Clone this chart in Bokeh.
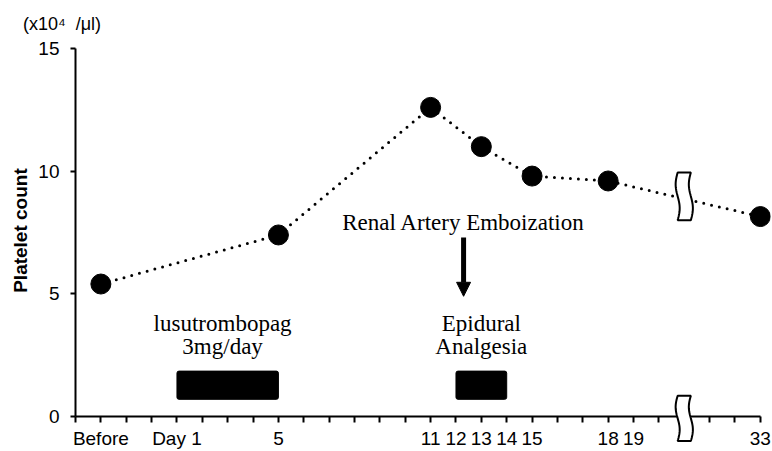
import numpy as np
from bokeh.plotting import figure
from bokeh.models import Range1d, FixedTicker, Arrow, NormalHead, ColumnDataSource
from bokeh.core.properties import value
from bokeh.embed import file_html
from bokeh.resources import INLINE

# ---- data -------------------------------------------------------------
# x axis: one slot per day, with an axis break between day 19 and day 33
tick_positions = list(range(28))
label_positions = [1, 4, 8, 14, 15, 16, 17, 18, 21, 22, 27]
label_texts = ["Before", "Day 1", "5", "11", "12", "13", "14", "15", "18", "19", "33"]

# platelet count (x10^4 /µl)
point_positions = [1, 8, 14, 16, 18, 21, 27]
platelet_counts = [5.4, 7.4, 12.6, 11.0, 9.8, 9.6, 8.15]

y_ticks = [0, 5, 10, 15]

# treatment periods (lusutrombopag days 1-5, epidural analgesia days 12-14)
treat_start = [4, 15]
treat_end = [8, 17]
treat_low = [0.7, 0.7]
treat_high = [1.85, 1.85]

# annotation texts
note_texts = ["lusutrombopag", "3mg/day", "Epidural", "Analgesia", "Renal Artery Emboization"]
note_x = [5.8, 5.8, 16.0, 16.0, 15.3]
note_y = [3.8, 2.85, 3.8, 2.85, 7.92]

unit_text = "(x10\u2074\u00a0\u00a0/\u03bcl)"
y_title = "Platelet count"

break_x = 24

# ---- figure -----------------------------------------------------------
p = figure(width=772, height=451, output_backend="svg", toolbar_location=None,
           x_range=Range1d(0, 27.4), y_range=Range1d(0, 15),
           min_border_left=75, min_border_right=2, min_border_top=48, min_border_bottom=33)
p.outline_line_color = None
p.grid.visible = False
p.background_fill_color = "white"
p.border_fill_color = "white"

SANS = "Liberation Sans"
SERIF = "Liberation Serif"

# axes
xa = p.xaxis[0]
xa.ticker = FixedTicker(ticks=tick_positions)
overrides = {t: "" for t in tick_positions}
for pos, txt in zip(label_positions, label_texts):
    overrides[pos] = txt
xa.major_label_overrides = overrides
xa.bounds = (0, 27)
xa.axis_line_width = 2
xa.major_tick_line_width = 2
xa.major_tick_out = 6
xa.major_tick_in = 0
xa.minor_tick_line_color = None
xa.major_label_standoff = 5
xa.major_label_text_font = SANS
xa.major_label_text_font_size = "19px"
xa.major_label_text_color = "black"

ya = p.yaxis[0]
ya.ticker = FixedTicker(ticks=y_ticks)
ya.axis_line_width = 2
ya.major_tick_line_width = 2
ya.major_tick_out = 5
ya.major_tick_in = 0
ya.minor_tick_line_color = None
ya.major_label_standoff = 11
ya.major_label_text_font = SANS
ya.major_label_text_font_size = "19px"
ya.major_label_text_color = "black"

# treatment bars
p.quad(left=treat_start, right=treat_end, bottom=treat_low, top=treat_high,
       fill_color="black", line_color="black", border_radius=2)

# platelet series
p.line(point_positions, platelet_counts, line_width=3, line_dash="0 8",
       line_cap="round", line_color="black")
p.scatter(point_positions, platelet_counts, size=20, fill_color="black", line_color="black")

# annotation texts
src = ColumnDataSource(dict(x=note_x, y=note_y, text=note_texts))
p.text(x="x", y="y", text="text", source=src, text_font=value(SERIF),
       text_font_size="23px", text_align="center", text_baseline="alphabetic",
       text_color="black")

# arrow (renal artery embolization)
p.add_layout(Arrow(x_start=15.3, y_start=7.3, x_end=15.3, y_end=4.9,
                   line_width=5, line_color="black",
                   end=NormalHead(size=14, fill_color="black", line_color="black", line_width=1)))

# break symbols (drawn at overlay level so they can pass over the axis)
def break_shape(xc, y0, y1, hw=0.26, amp=0.08):
    t = np.linspace(0.0, 1.0, 30)
    ys = y0 + t * (y1 - y0)
    wig = amp * np.sin(2 * np.pi * t)
    xs = np.concatenate([xc - hw + wig, (xc + hw + wig)[::-1]])
    yy = np.concatenate([ys, ys[::-1]])
    return list(xs), list(yy)

bxs, bys = [], []
for (y0, y1) in [(8.0, 9.95), (-1.0, 0.85)]:
    bx, by = break_shape(break_x, y0, y1)
    bxs.append(bx)
    bys.append(by)
p.patches(xs=bxs, ys=bys, fill_color="white", line_color="black", line_width=2,
          level="overlay")

# unit label and y-axis title (outside the frame)
p.text(x=[-2.07], y=[16.01], text=[unit_text], text_font=value(SANS),
       text_font_size="18px", text_align="left", text_baseline="middle",
       text_color="black", level="overlay")
p.text(x=[-2.17], y=[7.58], text=[y_title], angle=np.pi / 2,
       text_font=value(SANS), text_font_size="19px", text_font_style="bold",
       text_align="center", text_baseline="middle", text_color="black", level="overlay")

open("out.html", "w").write(file_html(p, INLINE))
